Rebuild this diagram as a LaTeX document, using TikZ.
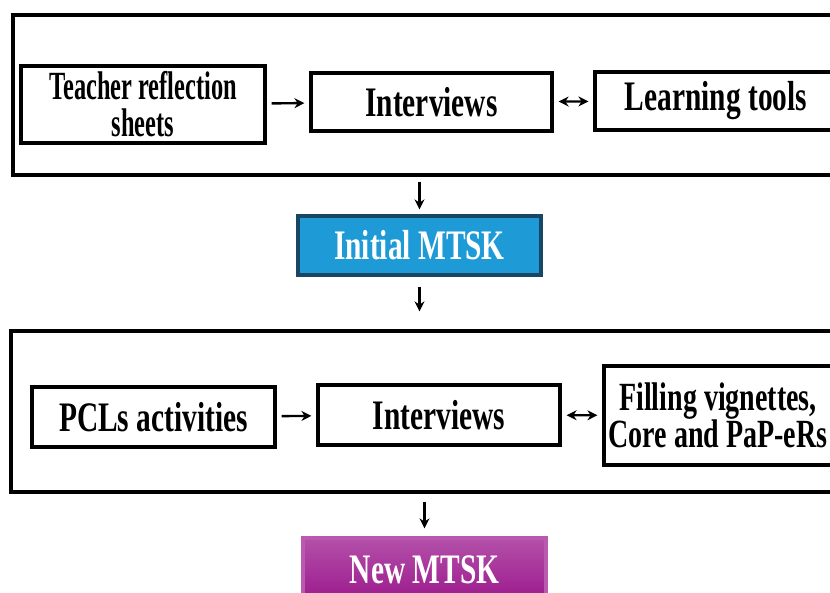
\documentclass[tikz,border=0pt]{standalone}
\usepackage{fontspec}
\usetikzlibrary{arrows.meta}
\setmainfont{Liberation Serif}[FakeStretch=0.70]
\newfontfamily\narrowserif{Liberation Serif}[FakeStretch=0.61]
\begin{document}
\begin{tikzpicture}[x=1pt, y=-1pt,
        box/.style={rectangle, draw, line width=3.2pt, inner sep=0pt, align=center,
            font=\bfseries\fontsize{42}{35}\selectfont},
        frame/.style={rectangle, draw, line width=3.2pt, inner sep=0pt},
        arrow/.style={-{Stealth[length=10pt, width=10pt]}, line width=2.4pt, shorten <=5pt, shorten >=5pt},
        twoway/.style={arrow, {Stealth[length=10pt, width=10pt]}-{Stealth[length=10pt, width=10pt]}}
    ]
        \useasboundingbox (0,0) rectangle (830,593);
        \clip (0,0) rectangle (830,593);

        \node[frame, minimum width=827pt, minimum height=160pt] (frameA) at (426.5,95) {};
        \node[box, minimum width=244pt, minimum height=77pt, font=\bfseries\narrowserif\fontsize{40}{37}\selectfont]
            (sheets) at (143,104.5) {Teacher reflection\\sheets};
        \node[box, minimum width=241pt, minimum height=58pt] (interA) at (431.5,102) {Interviews};
        \node[box, minimum width=242pt, minimum height=58pt] (tools) at (716,101) {Learning tools};

        \node[box, minimum width=243pt, minimum height=59pt, draw={rgb,255:red,25;green,70;blue,100},
            fill={rgb,255:red,30;green,155;blue,215}, text=white] (initial) at (419.5,245.5) {Initial MTSK};

        \node[frame, minimum width=829pt, minimum height=161pt] (frameB) at (425.5,411.5) {};
        \node[box, minimum width=243pt, minimum height=60pt] (pcls) at (153.5,417) {PCLs activities};
        \node[box, minimum width=242pt, minimum height=60pt] (interB) at (439,415) {Interviews};
        \node[box, minimum width=228pt, minimum height=99pt, font=\bfseries\fontsize{40}{37}\selectfont]
            (vignettes) at (718,415.5) {Filling vignettes,\\Core and PaP-eRs};

        \node[box, minimum width=243pt, minimum height=64pt, draw={rgb,255:red,185;green,90;blue,175},
            top color={rgb,255:red,180;green,80;blue,170}, bottom color={rgb,255:red,155;green,25;blue,140},
            text=white] (newmtsk) at (424.5,570) {New MTSK};

        \draw[arrow] (sheets) -- (interA);
        \draw[twoway] (interA) -- (tools);
        \draw[arrow] (frameA.south -| initial) -- (initial);
        \draw[arrow, shorten <=10pt, shorten >=18pt] (initial) -- (frameB.north -| initial);
        \draw[arrow] (pcls) -- (interB);
        \draw[twoway] (interB) -- (vignettes);
        \draw[arrow, shorten <=8pt, shorten >=8pt] (frameB.south -| newmtsk) -- (newmtsk);
    \end{tikzpicture}
\end{document}
